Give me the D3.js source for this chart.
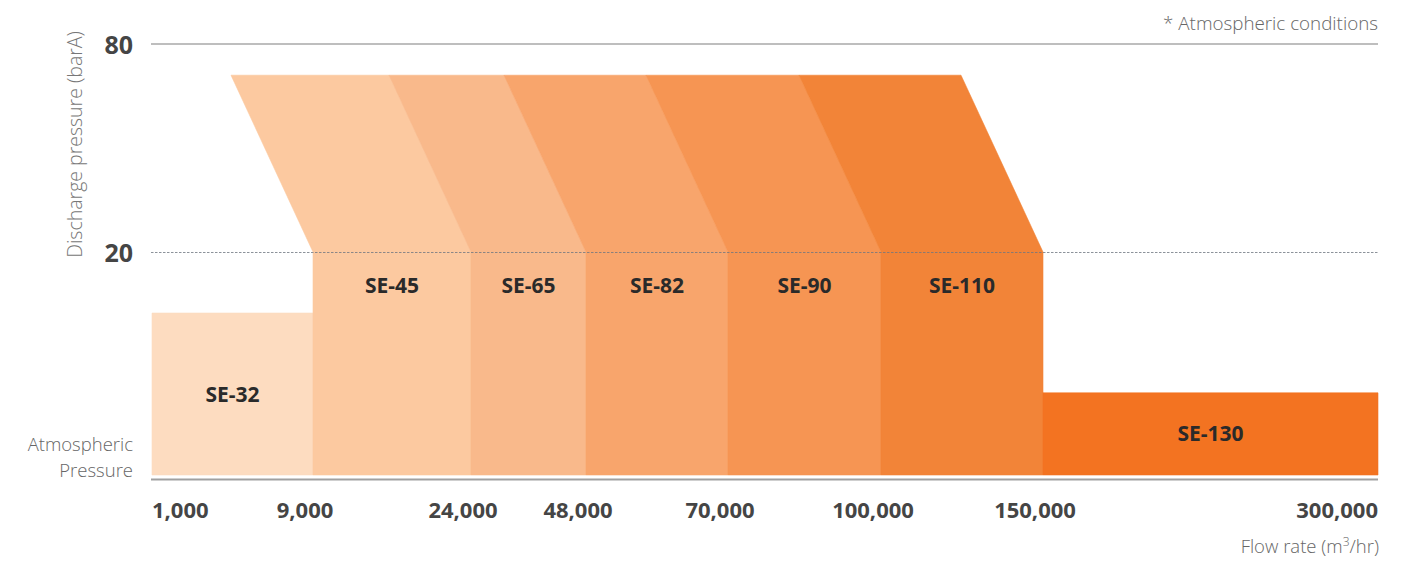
<!DOCTYPE html>
<html>
<head>
<meta charset="utf-8">
<script src="https://cdn.jsdelivr.net/npm/d3@7"></script>
<style>
  html, body { margin: 0; padding: 0; background: #fff; }
  svg { display: block; }
  text { font-family: "Open Sans", "Noto Sans", sans-serif; }
</style>
</head>
<body>
<svg id="chart" width="1412" height="563"></svg>
<script>
// ---------------- data ----------------
const flowTicks = [1000, 9000, 24000, 48000, 70000, 100000, 150000, 300000];
const flowTickLabels = ["1,000", "9,000", "24,000", "48,000", "70,000", "100,000", "150,000", "300,000"];
const pressureTicks = [80, 20];
const pressureTickLabels = ["80", "20"];
const atmPressure = 1;
const models = ["SE-32", "SE-45", "SE-65", "SE-82", "SE-90", "SE-110", "SE-130"];
const flowMin = [1000, 9000, 24000, 48000, 70000, 100000, 150000];
const flowMax = [9000, 24000, 48000, 70000, 100000, 150000, 300000];
const pressureMax = [14.8, 71, 71, 71, 71, 71, 8];
const modelColors = ["#fddcc0", "#fcc9a0", "#f9b98b", "#f8a56c", "#f69553", "#f28438", "#f37321"];

// ---------------- layout ----------------
const W = 1412, H = 563;
const xRange = [152, 313, 471, 586, 728, 881, 1043, 1378];   // schematic (non-uniform) x layout
const x = d3.scaleLinear().domain(flowTicks).range(xRange);
const y = d3.scaleLinear().domain([atmPressure, 20, 80]).range([475, 252, 44]);
const slant = 82;       // horizontal offset of slanted band top vs bottom (px)
const splitP = 20;      // pressure where slant begins

const svg = d3.select("#chart");

// ---------------- bars ----------------
const data = models.map((m, i) => ({
  name: m, x0: flowMin[i], x1: flowMax[i], pmax: pressureMax[i], color: modelColors[i]
}));

function shape(d) {
  const X0 = x(d.x0), X1 = x(d.x1), Yb = y(atmPressure);
  if (d.pmax <= splitP) {
    return [[X0, Yb], [X1, Yb], [X1, y(d.pmax)], [X0, y(d.pmax)]];
  }
  const ys = y(splitP), yt = y(d.pmax);
  return [[X0, Yb], [X1, Yb], [X1, ys], [X1 - slant, yt], [X0 - slant, yt], [X0, ys]];
}

svg.append("g").selectAll("polygon")
  .data(data).join("polygon")
  .attr("points", d => shape(d).map(p => p.join(",")).join(" "))
  .attr("fill", d => d.color)
  .attr("stroke", d => d.color)
  .attr("stroke-width", 0.6);

// ---------------- grid / axes lines ----------------
svg.append("line")
  .attr("x1", x(flowTicks[0]) - 1).attr("x2", x(flowTicks[flowTicks.length - 1]))
  .attr("y1", y(80)).attr("y2", y(80))
  .attr("stroke", "#a8a8a8").attr("stroke-width", 1.3);

svg.append("line")
  .attr("x1", x(flowTicks[0]) - 1).attr("x2", x(flowTicks[flowTicks.length - 1]))
  .attr("y1", y(20) + 0.5).attr("y2", y(20) + 0.5)
  .attr("stroke", "#6f7680").attr("stroke-width", 0.8)
  .attr("stroke-dasharray", "2.5,1.5");

svg.append("line")
  .attr("x1", x(flowTicks[0]) - 1).attr("x2", x(flowTicks[flowTicks.length - 1]))
  .attr("y1", y(atmPressure) + 4.5).attr("y2", y(atmPressure) + 4.5)
  .attr("stroke", "#a0a0a0").attr("stroke-width", 1.8);

// ---------------- model labels ----------------
svg.append("g").selectAll("text")
  .data(data).join("text")
  .attr("x", d => (x(d.x0) + x(d.x1)) / 2)
  .attr("y", d => d.pmax > splitP ? y(splitP) + 33 : (y(atmPressure) + y(d.pmax)) / 2)
  .attr("dy", "0.36em")
  .attr("text-anchor", "middle")
  .attr("font-size", 21)
  .attr("font-weight", 700)
  .attr("fill", "#2a2a2a")
  .text(d => d.name);

// ---------------- x tick labels ----------------
const n = flowTicks.length;
svg.append("g").selectAll("text")
  .data(flowTicks).join("text")
  .attr("x", (d, i) => i === 0 ? x(d) : (i === n - 1 ? x(d) : x(d) - 8))
  .attr("y", 518)
  .attr("text-anchor", (d, i) => i === 0 ? "start" : (i === n - 1 ? "end" : "middle"))
  .attr("font-size", 22)
  .attr("font-weight", 700)
  .attr("fill", "#454545")
  .text((d, i) => flowTickLabels[i]);

// ---------------- y tick labels ----------------
svg.append("g").selectAll("text")
  .data(pressureTicks).join("text")
  .attr("x", 133)
  .attr("y", d => y(d) + 10)
  .attr("text-anchor", "end")
  .attr("font-size", 25)
  .attr("font-weight", 700)
  .attr("fill", "#454545")
  .text((d, i) => pressureTickLabels[i]);

const atm = svg.append("text")
  .attr("text-anchor", "end")
  .attr("font-size", 18.5)
  .attr("font-weight", 300)
  .attr("fill", "#666");
atm.append("tspan").attr("x", 133).attr("y", y(atmPressure) - 24).text("Atmospheric");
atm.append("tspan").attr("x", 133).attr("y", y(atmPressure) + 2).text("Pressure");

// ---------------- axis titles / notes ----------------
svg.append("text")
  .attr("transform", `translate(82, ${(39 + 250) / 2}) rotate(-90)`)
  .attr("text-anchor", "middle")
  .attr("font-size", 19.5)
  .attr("font-weight", 300)
  .attr("fill", "#777")
  .text("Discharge pressure (barA)");

svg.append("text")
  .attr("x", x(flowTicks[n - 1]))
  .attr("y", 30)
  .attr("text-anchor", "end")
  .attr("font-size", 18.8)
  .attr("font-weight", 300)
  .attr("fill", "#666")
  .text("* Atmospheric conditions");

const fr = svg.append("text")
  .attr("x", x(flowTicks[n - 1]) + 1)
  .attr("y", 553)
  .attr("text-anchor", "end")
  .attr("font-size", 18.5)
  .attr("font-weight", 300)
  .attr("fill", "#666");
fr.append("tspan").text("Flow rate (m");
fr.append("tspan").attr("font-size", 12).attr("dy", -7).text("3");
fr.append("tspan").attr("dy", 7).text("/hr)");
</script>
</body>
</html>
